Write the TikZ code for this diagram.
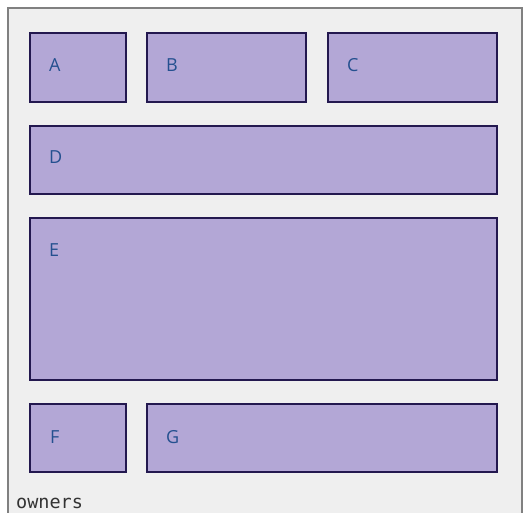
\documentclass[tikz,border=0pt]{standalone}
\usepackage{fontspec}
\setmainfont{Open Sans}
\newfontfamily\monof{DejaVu Sans Mono}
\definecolor{bgc}{HTML}{EFEFEF}
\definecolor{framec}{HTML}{808080}
\definecolor{boxfill}{HTML}{B3A7D6}
\definecolor{boxline}{HTML}{23184F}
\definecolor{labc}{HTML}{24508F}
\definecolor{ownc}{HTML}{333333}
\tikzset{
  panel/.style={fill=boxfill, draw=boxline, line width=1.5pt},
  lab/.style={anchor=base west, text=labc, font=\fontsize{18}{20}\selectfont, inner sep=0pt},
}
\begin{document}
\begin{tikzpicture}[x=1pt,y=-1pt]
\useasboundingbox (0,0) rectangle (525,513);
\fill[bgc] (8,8) rectangle (522,513);
\draw[framec, line width=1.5pt] (8,513) -- (8,8) -- (522,8) -- (522,513);
\draw[panel] (30,33) rectangle (126,102);
\draw[panel] (147,33) rectangle (306,102);
\draw[panel] (328,33) rectangle (497,102);
\draw[panel] (30,126) rectangle (497,194);
\draw[panel] (30,218) rectangle (497,380);
\draw[panel] (30,404) rectangle (126,472);
\draw[panel] (147,404) rectangle (497,472);
\node[lab] (a) at (49,72) {A};
\node[lab] (b) at (166,72) {B};
\node[lab] (c) at (347,72) {C};
\node[lab] (d) at (49,164) {D};
\node[lab] (e) at (49,257) {E};
\node[lab] (f) at (50,443) {F};
\node[lab] (g) at (166,443) {G};
\node[anchor=base west, inner sep=0pt, text=ownc, font=\monof\fontsize{18.5}{20}\selectfont] (own) at (16,508) {owners};
\end{tikzpicture}
\end{document}
